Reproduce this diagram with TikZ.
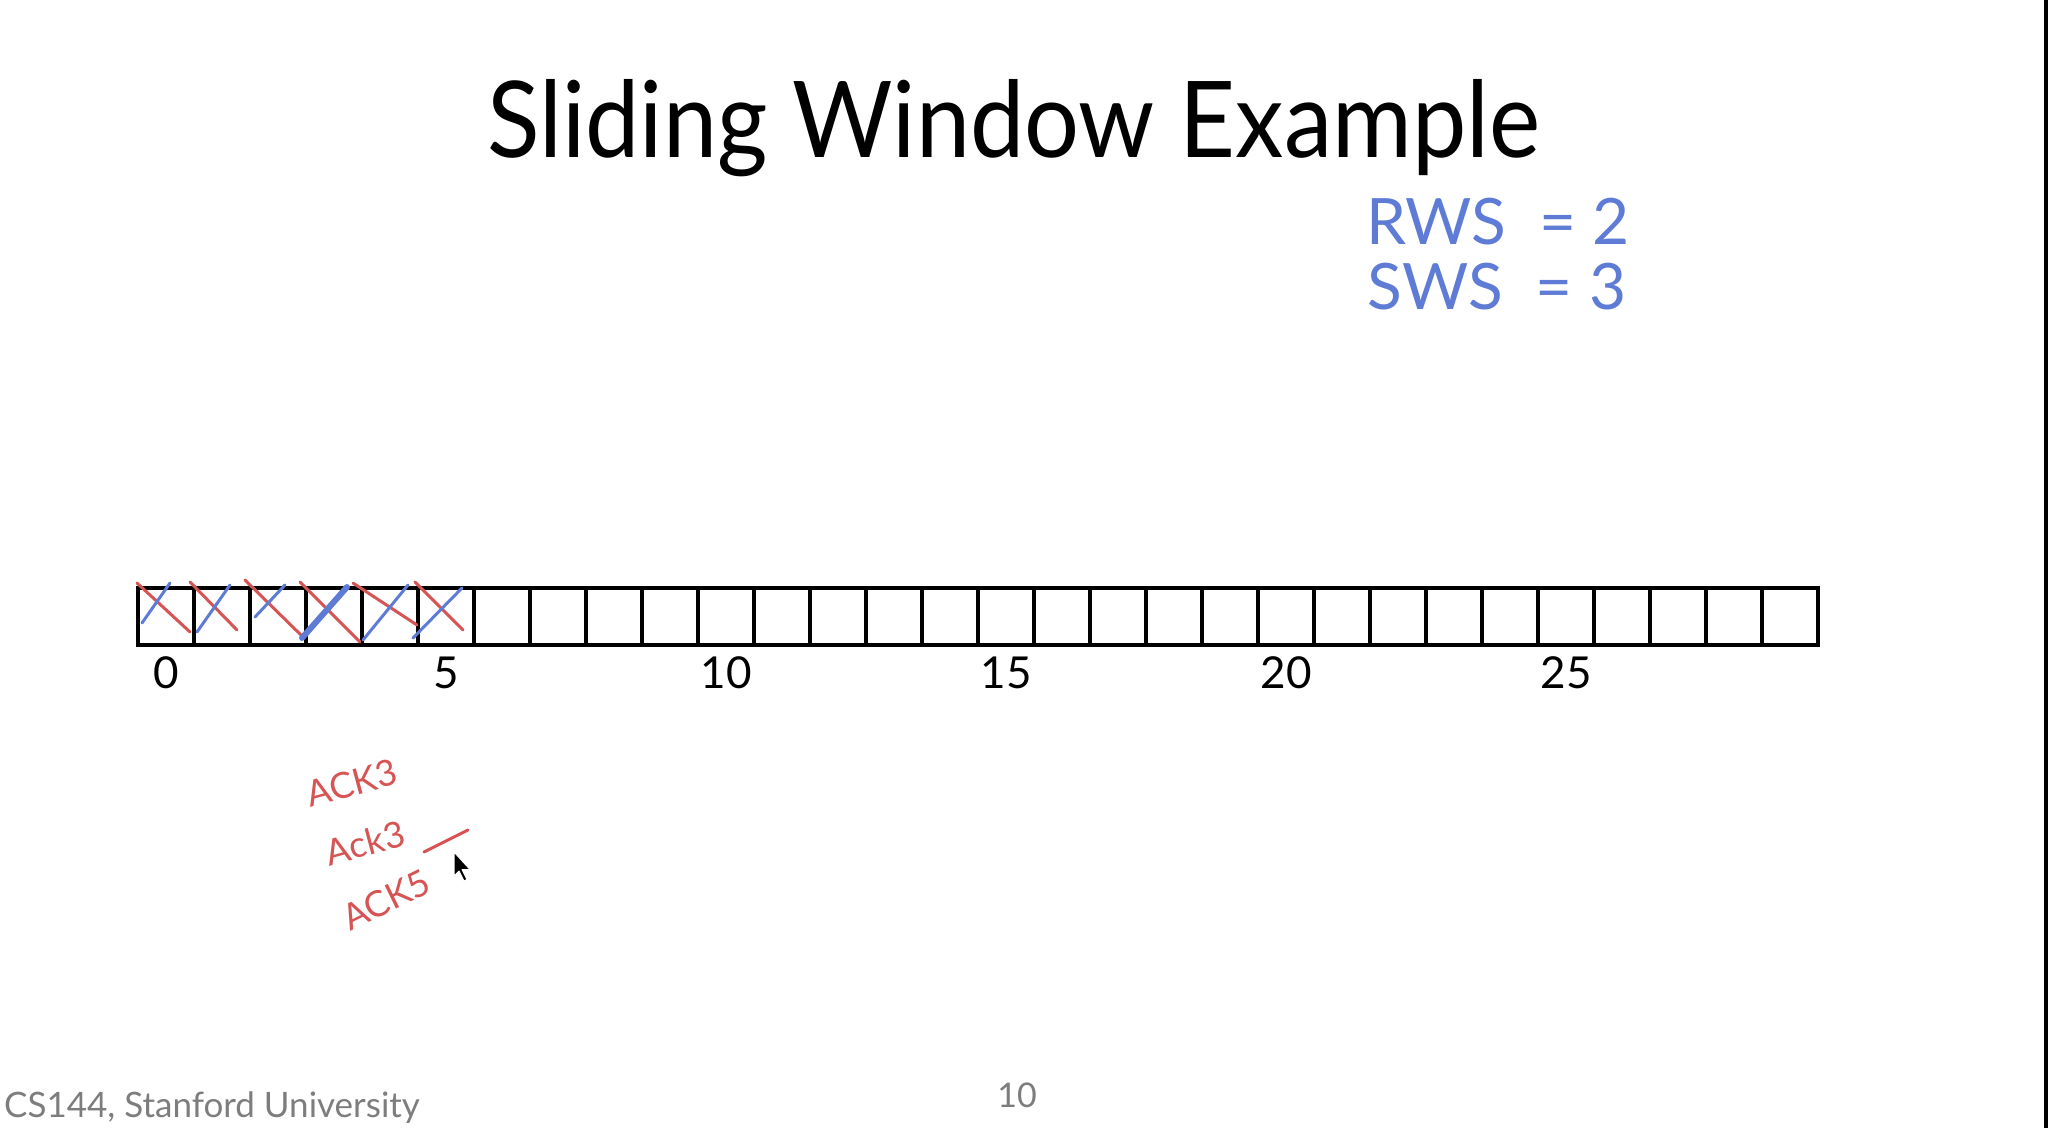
\documentclass[tikz,border=0pt]{standalone}
\usepackage{fontspec}
\setmainfont{Lato}
\newfontfamily\titlefont{Lato}[FakeStretch=0.915]
\usetikzlibrary{calc}
\definecolor{inkred}{RGB}{214,84,84}
\definecolor{inkblue}{RGB}{94,124,214}
\definecolor{footgray}{RGB}{125,125,125}
\begin{document}
\begin{tikzpicture}[x=1pt,y=-1pt,
  cell/.style={draw,line width=4pt,minimum width=56pt,minimum height=57pt,inner sep=0pt,outer sep=0pt},
  idx/.style={font=\fontsize{44}{44}\selectfont,anchor=base,inner sep=0pt},
  redstroke/.style={inkred,line width=3pt,line cap=round},
  bluestroke/.style={inkblue,line width=3pt,line cap=round},
  bluehand/.style={text=inkblue,font=\fontsize{64}{64}\selectfont,inner sep=0pt},
  redhand/.style={text=inkred,font=\fontsize{36}{36}\selectfont,inner sep=0pt}]
\useasboundingbox (0,0) rectangle (2048,1128);
\fill[black] (2044,0) rectangle (2048,1128);
% title
\node[font=\titlefont\fontsize{106}{106}\selectfont,anchor=base,inner sep=0pt] (title) at (1014,157) {Sliding Window Example};
% cells
\foreach \i in {0,...,29} \node[cell] (c\i) at ({166+56*\i},616.5) {};
\foreach \i in {0,5,...,25} \node[idx] (l\i) at (c\i.center |- 0,688) {\i};
% crosses (red)
\draw[redstroke] (137,583) -- (190,632);
\draw[redstroke] (190,582) -- (237,630);
\draw[redstroke] (245,580) -- (303,637);
\draw[redstroke] (300,582) -- (360,642);
\draw[redstroke] (353,583) -- (417,625);
\draw[redstroke] (415,582) -- (463,630);
% crosses (blue)
\draw[bluestroke] (142,623) -- (170,583);
\draw[bluestroke] (197,632) -- (230,585);
\draw[bluestroke] (255,617) -- (285,585);
\draw[bluestroke,line width=6pt] (302,638) -- (347,587);
\draw[bluestroke] (363,640) -- (408,585);
\draw[bluestroke] (413,638) -- (462,588);
% handwritten notes
\node[bluehand] (rws) at (1498,222) {RWS \ = 2};
\node[bluehand] (sws) at (1497,287) {SWS \ = 3};
\node[redhand,rotate=15] (ack1) at (352,783) {ACK3};
\node[redhand,rotate=15] (ack2) at (365,843) {Ack3};
\node[redhand,rotate=26] (ack3) at (386,900) {ACK5};
\draw[redstroke] (424,852) -- (468,830);
% cursor
\draw[white,line width=1pt,fill=black,line join=round] (454,852) -- ++(0,24) -- ++(5,-5) -- ++(5,10) -- ++(3,-1.5) -- ++(-5,-10) -- ++(8,0) -- cycle;
% footer
\node[font=\fontsize{35}{35}\selectfont,text=footgray,anchor=base west,inner sep=0pt] (foot) at (4,1117) {CS144, Stanford University};
\node[font=\fontsize{34}{34}\selectfont,text=footgray,anchor=base,inner sep=0pt] (page) at (1017,1107) {10};
\end{tikzpicture}
\end{document}
